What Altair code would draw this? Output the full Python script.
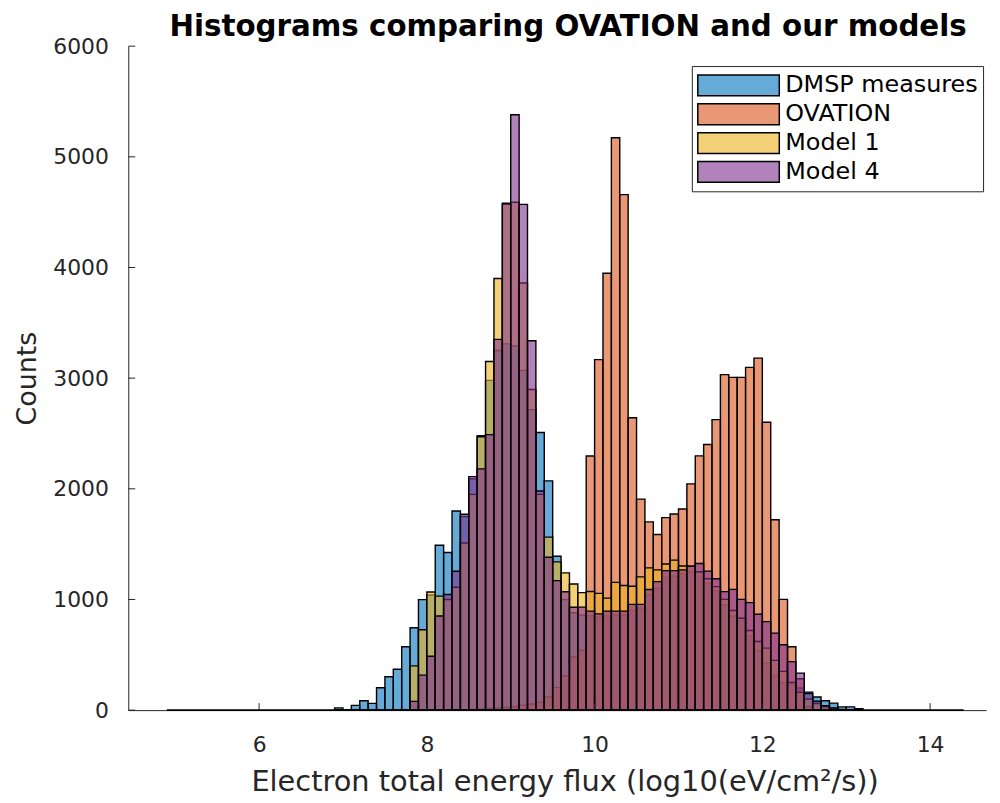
import altair as alt
import pandas as pd

# ---------------- data ----------------
SERIES = ["DMSP measures", "OVATION", "Model 1", "Model 4"]
COLORS = ["#0072BD", "#D95319", "#EDB120", "#7E2F8E"]
# the same colours seen through 60 % face alpha on white (legend swatches)
LEGEND_COLORS = ["#66AAD7", "#E89875", "#F4D079", "#B282BB"]

BIN_START = 6.9      # left edge of first listed bin
BIN_WIDTH = 0.1      # bin width in log10 units
ZERO_BINS_FROM = 4.9  # range covered by empty (zero-count) bins
ZERO_BINS_TO = 14.4

# counts per bin, bins 6.9 .. 13.1 (63 bins)
dmsp = [20, 0, 43, 85, 61, 202, 301, 370, 573, 744,
        999, 1040, 1490, 1425, 1800, 1750, 2090, 2480, 2980, 3250,
        3310, 3290, 3070, 2716, 2509, 2072, 1390, 1000, 880, 860,
        850, 840, 850, 860, 860, 900, 920, 1040, 1100, 1200,
        1210, 1230, 1250, 1250, 1150, 1080, 950, 851, 806, 672,
        537, 424, 313, 250, 230, 200, 163, 118, 85, 63,
        29, 29, 13]

ovation = [0, 0, 0, 0, 0, 0, 0, 0, 0, 0,
           0, 0, 0, 0, 0, 0, 5, 10, 15, 20,
           25, 30, 45, 55, 72, 120, 203, 309, 480, 540,
           2297, 3167, 3948, 5173, 4658, 2642, 1907, 1701, 1587, 1740,
           1772, 1817, 2045, 2298, 2400, 2625, 3032, 3007, 3007, 3097,
           3181, 2602, 1720, 1001, 573, 283, 30, 0, 0, 0,
           0, 0, 0]

model1 = [0, 0, 0, 0, 0, 0, 0, 0, 0, 400,
          726, 1067, 1030, 1000, 1110, 1510, 1950, 2470, 3150, 3900,
          4570, 4590, 3860, 2898, 1950, 1563, 1340, 1240, 1140, 1062,
          1072, 1055, 1012, 1154, 1126, 1119, 1204, 1285, 1267, 1321,
          1356, 1303, 1300, 1250, 1187, 1116, 1001, 900, 830, 720,
          620, 560, 450, 350, 250, 160, 100, 60, 30, 15,
          5, 0, 0]

model4 = [0, 0, 0, 0, 0, 0, 0, 0, 0, 79,
          316, 487, 850, 1045, 1255, 1770, 2110, 2180, 2490, 3350,
          4580, 5380, 4570, 3338, 1980, 1381, 1170, 1070, 930, 931,
          895, 870, 895, 895, 895, 956, 956, 1090, 1161, 1261,
          1261, 1267, 1301, 1325, 1256, 1187, 1071, 1091, 1001, 971,
          866, 800, 696, 591, 438, 334, 150, 80, 40, 20,
          5, 0, 0]

X_TICKS = [6, 8, 10, 12, 14]
Y_TICKS = [0, 1000, 2000, 3000, 4000, 5000, 6000]
X_DOMAIN = [4.44, 14.667]
Y_DOMAIN = [0, 6000]

TITLE = "Histograms comparing OVATION and our models"
XLABEL = "Electron total energy flux (log10(eV/cm\u00b2/s))"
YLABEL = "Counts"

# ---------------- build table ----------------
rows = []
for name, counts in zip(SERIES, [dmsp, ovation, model1, model4]):
    for i, c in enumerate(counts):
        lo = round(BIN_START + i * BIN_WIDTH, 2)
        rows.append({"series": name, "x0": lo, "x1": round(lo + BIN_WIDTH, 2),
                     "count": c, "base": 0})
df = pd.DataFrame(rows)

FONT = "DejaVu Sans"
AX = "#262626"
W, H = 863, 668

xscale = alt.Scale(domain=X_DOMAIN, nice=False, zero=False)
yscale = alt.Scale(domain=Y_DOMAIN, nice=False)

XAXIS = alt.Axis(values=X_TICKS, format="d", labelFontSize=22, labelFont=FONT, labelColor=AX,
                 domainColor=AX, domainWidth=1, ticks=False, tickSize=0,
                 labelPadding=25, grid=False, labelFlush=False,
                 title=XLABEL, titleFont=FONT, titleFontSize=29,
                 titleFontWeight="normal", titleColor=AX,
                 titleBaseline="alphabetic", titleY=81, titleX=439)
YAXIS = alt.Axis(values=Y_TICKS, format="d", labelFontSize=22, labelFont=FONT, labelColor=AX,
                 domainColor=AX, domainWidth=1, ticks=False, tickSize=0,
                 labelPadding=20, grid=False, labelFlush=False,
                 title=YLABEL, titleFont=FONT, titleFontSize=27,
                 titleFontWeight="normal", titleColor=AX, titleAngle=270,
                 titleBaseline="alphabetic", titleX=-93)

bars = alt.Chart(df).mark_rect(stroke="black", strokeWidth=1.4, fillOpacity=0.6).encode(
    x=alt.X("x0:Q", scale=xscale, axis=XAXIS),
    x2="x1",
    y=alt.Y("count:Q", scale=yscale, axis=YAXIS),
    y2="base",
    fill=alt.Fill("series:N", sort=SERIES, scale=alt.Scale(range=COLORS), legend=None),
)

# legend: swatches in the blended colours, black edges; this layer draws no marks
legend_layer = alt.Chart(df).transform_filter("false").mark_rect(
    stroke="black", strokeWidth=1.5).encode(
    color=alt.Color("series:N", scale=alt.Scale(domain=SERIES, range=LEGEND_COLORS),
                    legend=alt.Legend(title=None, orient="none", legendX=567, legendY=20,
                                      direction="vertical",
                                      symbolType="M-1,-0.256H1V0.256H-1Z",
                                      symbolSize=6724, symbolStrokeWidth=1.5,
                                      symbolStrokeColor="black", symbolOpacity=1,
                                      labelFontSize=24, labelFont=FONT, labelColor="black",
                                      labelLimit=400, labelOffset=5, padding=5,
                                      rowPadding=0, clipHeight=29,
                                      fillColor="white", strokeColor=AX)),
)

base_df = pd.DataFrame({"a": [ZERO_BINS_FROM], "b": [ZERO_BINS_TO], "z": [0]})
baseline = alt.Chart(base_df).mark_rule(color="black", strokeWidth=1.6).encode(
    x=alt.X("a:Q", scale=xscale, axis=XAXIS),
    x2="b",
    y=alt.Y("z:Q", scale=yscale, axis=YAXIS),
)

xt = alt.Chart(pd.DataFrame({"t": X_TICKS})).mark_rule(color=AX, strokeWidth=1).encode(
    x=alt.X("t:Q", scale=xscale, axis=XAXIS),
    y=alt.value(H), y2=alt.value(H - 7),
)
yt = alt.Chart(pd.DataFrame({"t": Y_TICKS})).mark_rule(color=AX, strokeWidth=1).encode(
    y=alt.Y("t:Q", scale=yscale, axis=YAXIS),
    x=alt.value(0), x2=alt.value(7),
)

chart = alt.layer(bars, baseline, xt, yt, legend_layer).properties(
    width=W, height=H,
    title=alt.TitleParams(TITLE, font=FONT, fontSize=29.5, fontWeight="bold", color="black",
                          anchor="middle", offset=10, dy=17, dx=11),
    padding={"left": 121, "top": 36, "right": 6, "bottom": 85},
    autosize=alt.AutoSizeParams(type="none"),
    background="white",
).configure_view(stroke="transparent")

chart.save("out.html", embed_options={"renderer": "svg", "actions": False})
